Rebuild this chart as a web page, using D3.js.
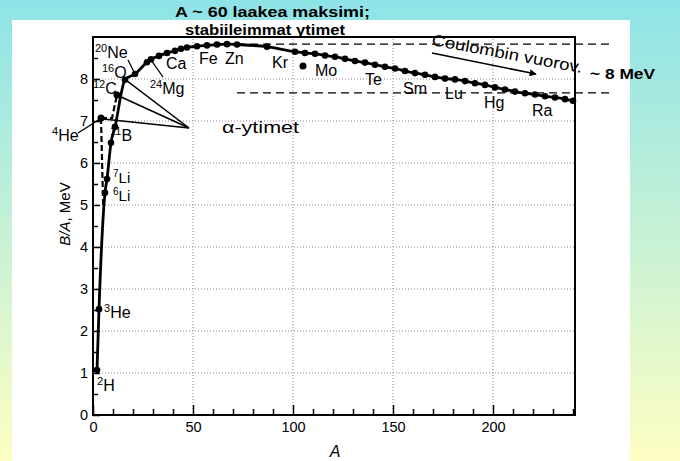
<!DOCTYPE html>
<html><head><meta charset="utf-8">
<script src="https://cdn.jsdelivr.net/npm/d3@7"></script>
<style>
html,body{margin:0;padding:0;}
svg{display:block;font-family:"Liberation Sans",Arial,Helvetica,sans-serif;}
</style></head>
<body>
<svg id="chart" width="680" height="461"></svg>
<script>
// ---------- data ----------
const curveA = [2,3,6,7,9,11,16,21,27,29,33,37,41,44,47,52,57,62,67,72,87,101,106,111,116,121,126,131,136,141,146,151,156,161,166,171,176,181,186,191,196,201,206,211,216,221,226,231,236,240];
const curveB = [1.07,2.52,5.29,5.62,6.48,6.86,7.98,8.12,8.40,8.47,8.55,8.62,8.67,8.72,8.75,8.78,8.80,8.82,8.83,8.82,8.77,8.65,8.62,8.60,8.56,8.53,8.48,8.43,8.39,8.34,8.29,8.25,8.19,8.14,8.10,8.05,8.01,7.99,7.95,7.90,7.86,7.80,7.75,7.70,7.66,7.63,7.59,7.56,7.52,7.48];
const extraA = [4, 12, 105];          // 4He, 12C, isolated point
const extraB = [7.07, 7.62, 8.31];
const dash1A = [4, 5.1];  const dash1B = [7.07, 4.95];
const dash2A = [4, 9.5, 12]; const dash2B = [7.07, 7.07, 7.62];
const levelB = [8.83, 7.67];          // dashed reference levels
const levelA = [72, 258.5];
const xTicks = [0, 50, 100, 150, 200];
const yTicks = [0, 1, 2, 3, 4, 5, 6, 7, 8];

// ---------- setup ----------
const svg = d3.select("#chart");
const defs = svg.append("defs");
const grad = defs.append("linearGradient").attr("id","bg").attr("x1",0).attr("y1",0).attr("x2",0).attr("y2",1);
grad.append("stop").attr("offset","0%").attr("stop-color","#8ee3e7");
grad.append("stop").attr("offset","50%").attr("stop-color","#c6f1d6");
grad.append("stop").attr("offset","100%").attr("stop-color","#fefec3");
defs.append("marker").attr("id","arr").attr("viewBox","0 0 10 10").attr("refX",9).attr("refY",5)
  .attr("markerWidth",9).attr("markerHeight",7).attr("markerUnits","userSpaceOnUse").attr("orient","auto")
  .append("path").attr("d","M0,0 L10,5 L0,10 Z").attr("fill","#000");

svg.append("rect").attr("width",680).attr("height",461).attr("fill","url(#bg)");
svg.append("rect").attr("x",12).attr("y",20).attr("width",618).attr("height",441).attr("fill","#fff");

const x = d3.scaleLinear().domain([0, 241]).range([93, 575]);
const y = d3.scaleLinear().domain([0, 9]).range([415, 37]);

// gridlines
const grid = svg.append("g").attr("stroke","#9a7fa0").attr("stroke-width",1).attr("stroke-dasharray","1,2");
grid.selectAll("line.h").data(yTicks.filter(d=>d>0)).join("line")
  .attr("x1",x(0)).attr("x2",x(241)).attr("y1",d=>y(d)).attr("y2",d=>y(d));
grid.selectAll("line.v").data(xTicks.filter(d=>d>0)).join("line")
  .attr("y1",y(0)).attr("y2",y(9)).attr("x1",d=>x(d)).attr("x2",d=>x(d));

// axes
const fs = "14.5px";
const yAx = svg.append("g").attr("transform",`translate(${x(0)},0)`)
  .call(d3.axisLeft(y).tickValues(yTicks).tickSize(-7).tickPadding(4).tickFormat(d3.format("d")));
const yMin = svg.append("g").attr("transform",`translate(${x(0)},0)`)
  .call(d3.axisLeft(y).tickValues(d3.range(0.5, 9, 1)).tickSize(-5).tickFormat(""));
const xMin = svg.append("g").attr("transform",`translate(0,${y(0)})`)
  .call(d3.axisBottom(x).tickValues(d3.range(10, 241, 10).filter(d=>d%50)).tickSize(-6).tickFormat(""));
const xAx = svg.append("g").attr("transform",`translate(0,${y(0)})`)
  .call(d3.axisBottom(x).tickValues(xTicks).tickSize(-10).tickPadding(7).tickFormat(d3.format("d")));
[yAx,yMin,xMin,xAx].forEach(g=>{
  g.select(".domain").remove();
  g.selectAll("line").attr("stroke","#000").attr("stroke-width",1.5);
  g.selectAll("text").attr("font-size",fs).attr("fill","#000").style("font-family","Liberation Sans, Arial, sans-serif");
});
yAx.selectAll("text").attr("dx","-1");

// frame
svg.append("rect").attr("x",x(0)).attr("y",y(9)).attr("width",x(241)-x(0)).attr("height",y(0)-y(9))
  .attr("fill","none").attr("stroke","#000").attr("stroke-width",2);

// axis titles
const yl = svg.append("text").attr("transform","translate(70,214) rotate(-90)").attr("text-anchor","middle").attr("font-size","15px");
yl.append("tspan").attr("font-style","italic").text("B/A");
yl.append("tspan").text(", MeV");
svg.append("text").attr("x",335).attr("y",457).attr("text-anchor","middle").attr("font-size","16px").attr("font-style","italic").text("A");

// dashed reference levels
svg.selectAll("line.lvl").data(levelB).join("line")
  .attr("x1",x(levelA[0])).attr("x2",x(levelA[1])).attr("y1",d=>y(d)).attr("y2",d=>y(d))
  .attr("stroke","#000").attr("stroke-width",1.3).attr("stroke-dasharray","8,5");

// curve
const pts = curveA.map((a,i)=>[a,curveB[i]]);
const line = d3.line().x(d=>x(d[0])).y(d=>y(d[1])).curve(d3.curveMonotoneX);
svg.append("path").attr("d",line(pts)).attr("fill","none").attr("stroke","#000").attr("stroke-width",2.8);
const lineL = d3.line().x(d=>x(d[0])).y(d=>y(d[1]));
svg.append("path").attr("d",lineL(dash1A.map((a,i)=>[a,dash1B[i]]))).attr("fill","none").attr("stroke","#000").attr("stroke-width",2.2).attr("stroke-dasharray","6,3");
svg.append("path").attr("d",lineL(dash2A.map((a,i)=>[a,dash2B[i]]))).attr("fill","none").attr("stroke","#000").attr("stroke-width",2.2).attr("stroke-dasharray","6,3");

svg.selectAll("circle.c").data(pts).join("circle")
  .attr("cx",d=>x(d[0])).attr("cy",d=>y(d[1])).attr("r",3.3).attr("fill","#000");
svg.selectAll("circle.e").data(extraA.map((a,i)=>[a,extraB[i]])).join("circle")
  .attr("cx",d=>x(d[0])).attr("cy",d=>y(d[1])).attr("r",3.5).attr("fill","#000");

// alpha-nuclei callout lines
const ax0 = 189, ay0 = 128;
[[4,7.07],[12,7.62],[16,7.98]].forEach(p=>{
  svg.append("line").attr("x1",ax0).attr("y1",ay0).attr("x2",x(p[0])+2).attr("y2",y(p[1])+1).attr("stroke","#000").attr("stroke-width",1.5);
});
// label leader lines
svg.append("line").attr("x1",128).attr("y1",60).attr("x2",x(21)-1).attr("y2",y(8.12)-2).attr("stroke","#000").attr("stroke-width",1.3);
svg.append("line").attr("x1",163).attr("y1",77).attr("x2",x(29)+1).attr("y2",y(8.47)+2).attr("stroke","#000").attr("stroke-width",1.3);
svg.append("line").attr("x1",78).attr("y1",133).attr("x2",x(4)-1).attr("y2",y(7.07)+1).attr("stroke","#000").attr("stroke-width",1.3);

// element labels
function iso(sx, by, sup, sym, size){
  const s = size || 16;
  const t = svg.append("text").attr("x",sx).attr("y",by).attr("font-size",s+"px");
  if (sup) t.append("tspan").attr("font-size",(s-5)+"px").attr("dy","-6").text(sup);
  t.append("tspan").attr("dy", sup ? "6" : "0").text(sym);
}
iso(95,58,"20","Ne");
iso(102,78,"16","O");
iso(93,94,"12","C");
iso(150,94,"24","Mg");
iso(166,69,null,"Ca");
iso(199,64,null,"Fe");
iso(225,64,null,"Zn");
iso(272,68,null,"Kr");
iso(315,76,null,"Mo");
iso(365,85,null,"Te");
iso(403,94,null,"Sm");
iso(445,99,null,"Lu");
iso(484,108,null,"Hg");
iso(532,116,null,"Ra");
iso(52,141,"4","He");
iso(110,141,"11","B");
iso(113,183,"7","Li",15);
iso(113,201,"6","Li",15);
iso(104,318,"3","He");
iso(97,391,"2","H");

svg.append("text").attr("x",222).attr("y",133).attr("font-size","17px")
  .attr("textLength",77).attr("lengthAdjust","spacingAndGlyphs").text("α-ytimet");

// Coulomb text + arrow
svg.append("text").attr("transform","translate(431,45) rotate(10.5)").attr("font-size","16px")
  .attr("textLength",153).attr("lengthAdjust","spacingAndGlyphs").text("Coulombin vuorov.");
svg.append("line").attr("x1",432).attr("y1",53).attr("x2",536).attr("y2",74)
  .attr("stroke","#000").attr("stroke-width",1.6).attr("marker-end","url(#arr)");

// titles
svg.append("text").attr("x",175).attr("y",17).attr("font-size","15px").attr("font-weight","bold")
  .attr("textLength",195).attr("lengthAdjust","spacingAndGlyphs").text("A ~ 60 laakea maksimi;");
svg.append("text").attr("x",185).attr("y",35).attr("font-size","15px").attr("font-weight","bold")
  .attr("textLength",160).attr("lengthAdjust","spacingAndGlyphs").text("stabiileimmat ytimet");
svg.append("text").attr("x",590).attr("y",79).attr("font-size","15px").attr("font-weight","bold")
  .attr("textLength",65).attr("lengthAdjust","spacingAndGlyphs").text("~ 8 MeV");
</script>
</body></html>
